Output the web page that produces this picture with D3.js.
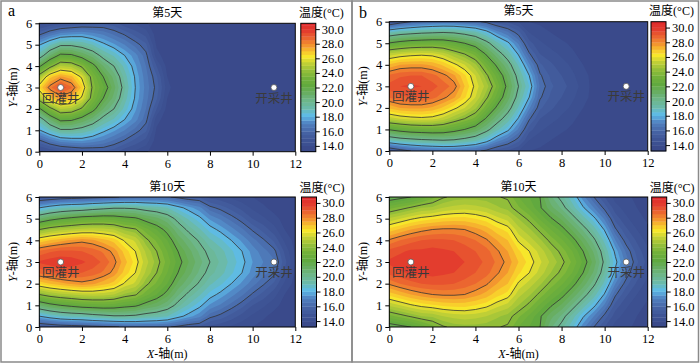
<!DOCTYPE html>
<html>
<head>
<meta charset="utf-8">
<script src="https://cdn.jsdelivr.net/npm/d3@7"></script>
<style>
  body { margin: 0; background: #fff; }
  svg text { font-family: "Liberation Serif", "Times New Roman", "Noto Sans CJK SC", serif; }
</style>
</head>
<body>
<svg id="chart" width="700" height="364"></svg>
<script>
// grid the temperatures were read on (m)
const gridX = [0,0.5,1,1.5,2,2.5,3,3.5,4,4.5,5,5.5,6,6.5,7,7.5,8,8.5,9,9.5,10,10.5,11,11.5,12];
const gridY = [6,5.5,5,4.5,4,3.5,3,2.5,2,1.5,1,0.5,0];

const xTicks = [0,2,4,6,8,10,12];
const yTicks = [0,1,2,3,4,5,6];
const colorTicks = [14,16,18,20,22,24,26,28,30];
const lineLevels = [16,18,20,22,24,26,28];
const colorRange = [13.2, 30.8];
const days = ["第5天", "第10天"];
const panelNames = ["a", "b"];
const wells = [
  { name: "回灌井", x: 1, y: 3 },
  { name: "开采井", x: 11, y: 3 }
];

// temperature (°C), rows top (y=6) to bottom (y=0)
const tempA5 = [
  [14.2,14.5,14.8,15.0,15.2,15.3,15.4,15.2,14.6,14.4,14.1,13.6,13.6,13.6,13.6,13.6,13.6,13.6,13.6,13.6,13.6,13.6,13.6,13.6,13.6],
  [15.8,16.6,17.2,17.4,17.5,17.2,16.9,16.4,15.9,15.3,14.8,13.7,13.6,13.6,13.6,13.6,13.6,13.6,13.6,13.6,13.6,13.6,13.6,13.6,13.6],
  [17.9,18.9,19.8,19.8,19.5,19.0,18.2,17.6,17.0,16.3,15.6,13.9,13.6,13.6,13.6,13.6,13.6,13.6,13.6,13.6,13.6,13.6,13.6,13.6,13.6],
  [19.3,21.0,22.3,22.2,21.5,20.7,19.6,18.9,18.0,17.2,16.2,14.2,13.7,13.6,13.6,13.6,13.6,13.6,13.6,13.6,13.6,13.6,13.6,13.6,13.6],
  [21.8,23.6,25.0,24.8,23.8,22.4,21.0,20.0,18.8,17.6,16.5,15.0,13.8,13.6,13.6,13.6,13.6,13.6,13.6,13.6,13.6,13.6,13.6,13.6,13.6],
  [24.6,26.8,27.6,27.2,25.8,23.5,22.0,20.8,19.3,17.9,16.7,15.6,14.0,13.6,13.6,13.6,13.6,13.6,13.6,13.6,13.6,13.6,13.6,13.6,13.6],
  [26.5,28.3,29.5,28.6,26.8,23.8,22.6,21.2,19.6,18.0,16.8,15.8,14.2,13.6,13.6,13.6,13.6,13.6,13.6,13.6,13.6,13.6,13.6,13.6,13.6],
  [24.6,26.8,27.6,27.2,25.8,23.5,22.0,20.8,19.3,17.9,16.7,15.6,14.0,13.6,13.6,13.6,13.6,13.6,13.6,13.6,13.6,13.6,13.6,13.6,13.6],
  [21.8,23.6,25.0,24.8,23.8,22.4,21.0,20.0,18.8,17.6,16.5,15.0,13.8,13.6,13.6,13.6,13.6,13.6,13.6,13.6,13.6,13.6,13.6,13.6,13.6],
  [19.3,21.0,22.3,22.2,21.5,20.7,19.6,18.9,18.0,17.2,16.2,14.2,13.7,13.6,13.6,13.6,13.6,13.6,13.6,13.6,13.6,13.6,13.6,13.6,13.6],
  [17.9,18.9,19.8,19.8,19.5,19.0,18.2,17.6,17.0,16.3,15.6,13.9,13.6,13.6,13.6,13.6,13.6,13.6,13.6,13.6,13.6,13.6,13.6,13.6,13.6],
  [15.8,16.6,17.2,17.4,17.5,17.2,16.9,16.4,15.9,15.3,14.8,13.7,13.6,13.6,13.6,13.6,13.6,13.6,13.6,13.6,13.6,13.6,13.6,13.6,13.6],
  [14.2,14.5,14.8,15.0,15.2,15.3,15.4,15.2,14.6,14.4,14.1,13.6,13.6,13.6,13.6,13.6,13.6,13.6,13.6,13.6,13.6,13.6,13.6,13.6,13.6]
];

const tempA10 = [
  [15.0,15.2,15.4,15.5,15.6,15.7,15.8,15.9,16.1,16.2,16.2,16.2,16.1,15.8,15.5,15.4,14.8,14.6,14.4,14.2,14.0,13.8,13.7,13.6,13.6],
  [18.0,18.5,18.9,19.1,19.2,19.5,19.7,19.9,19.9,19.8,19.5,19.3,19.0,18.3,17.7,17.2,16.2,15.8,15.3,14.8,14.4,14.1,13.8,13.7,13.6],
  [21.0,21.6,22.0,22.3,22.6,22.7,22.8,22.7,22.4,22.2,21.6,21.2,20.6,19.7,18.9,18.2,17.4,16.9,16.3,15.7,15.0,14.6,14.2,13.8,13.6],
  [24.0,24.5,24.8,25.0,25.2,25.3,25.2,25.0,24.4,24.1,23.2,22.5,21.7,20.6,19.8,19.1,18.3,17.8,17.2,16.6,15.9,15.3,14.7,14.0,13.7],
  [26.6,27.0,27.3,27.6,27.8,27.6,27.2,26.8,25.9,25.4,24.2,23.4,22.5,21.4,20.6,19.9,19.1,18.6,18.0,17.4,16.7,16.1,15.4,14.4,13.8],
  [28.6,28.9,29.1,29.1,29.0,28.8,28.4,27.8,26.8,26.0,24.9,24.0,23.0,22.0,21.2,20.4,19.7,19.2,18.6,18.0,17.3,16.7,16.2,14.9,13.9],
  [29.6,29.8,29.9,29.8,29.6,29.3,28.9,28.2,27.2,26.3,25.2,24.3,23.3,22.3,21.5,20.7,20.0,19.4,18.8,18.2,17.5,17.0,16.6,15.2,14.0],
  [28.6,28.9,29.1,29.1,29.0,28.8,28.4,27.8,26.8,26.0,24.9,24.0,23.0,22.0,21.2,20.4,19.7,19.2,18.6,18.0,17.3,16.7,16.2,14.9,13.9],
  [26.6,27.0,27.3,27.6,27.8,27.6,27.2,26.8,25.9,25.4,24.2,23.4,22.5,21.4,20.6,19.9,19.1,18.6,18.0,17.4,16.7,16.1,15.4,14.4,13.8],
  [24.0,24.5,24.8,25.0,25.2,25.3,25.2,25.0,24.4,24.1,23.2,22.5,21.7,20.6,19.8,19.1,18.3,17.8,17.2,16.6,15.9,15.3,14.7,14.0,13.7],
  [21.0,21.6,22.0,22.3,22.6,22.7,22.8,22.7,22.4,22.2,21.6,21.2,20.6,19.7,18.9,18.2,17.4,16.9,16.3,15.7,15.0,14.6,14.2,13.8,13.6],
  [18.0,18.5,18.9,19.1,19.2,19.5,19.7,19.9,19.9,19.8,19.5,19.3,19.0,18.3,17.7,17.2,16.2,15.8,15.3,14.8,14.4,14.1,13.8,13.7,13.6],
  [15.0,15.2,15.4,15.5,15.6,15.7,15.8,15.9,16.1,16.2,16.2,16.2,16.1,15.8,15.5,15.4,14.8,14.6,14.4,14.2,14.0,13.8,13.7,13.6,13.6]
];

const tempB5 = [
  [14.8,15.5,16.0,16.3,16.5,16.6,16.6,16.4,16.2,15.8,15.2,14.9,14.5,14.0,13.9,13.8,13.7,13.6,13.6,13.6,13.6,13.6,13.6,13.6,13.6],
  [19.0,19.4,19.6,19.8,19.9,20.0,19.9,19.6,19.2,18.4,17.3,16.6,15.7,14.5,14.2,14.0,13.8,13.7,13.6,13.6,13.6,13.6,13.6,13.6,13.6],
  [22.1,22.5,22.8,22.9,23.0,22.9,22.5,22.0,21.4,20.4,19.2,18.2,16.9,15.2,14.6,14.3,14.1,13.9,13.7,13.6,13.6,13.6,13.6,13.6,13.6],
  [25.2,25.5,25.7,25.8,25.7,25.3,24.6,24.0,23.3,21.9,20.6,19.4,17.9,16.1,15.0,14.7,14.4,14.1,13.8,13.6,13.6,13.6,13.6,13.6,13.6],
  [27.1,27.5,27.6,27.6,27.4,26.9,26.2,25.5,24.6,23.2,21.8,20.5,18.9,17.1,15.6,15.1,14.7,14.4,14.0,13.7,13.6,13.6,13.6,13.6,13.6],
  [28.6,28.9,29.0,29.0,28.7,28.2,27.6,26.6,25.5,24.2,22.8,21.3,19.6,18.0,16.1,15.4,15.0,14.6,14.2,13.8,13.6,13.6,13.6,13.6,13.6],
  [29.2,29.5,29.6,29.5,29.2,28.8,28.3,27.0,25.8,24.8,23.4,21.7,20.0,18.5,16.4,15.6,15.2,14.8,14.3,13.8,13.6,13.6,13.6,13.6,13.6],
  [28.6,28.9,29.0,29.0,28.7,28.2,27.6,26.6,25.5,24.2,22.8,21.3,19.6,18.0,16.1,15.4,15.0,14.6,14.2,13.8,13.6,13.6,13.6,13.6,13.6],
  [27.1,27.5,27.6,27.6,27.4,26.9,26.2,25.5,24.6,23.2,21.8,20.5,18.9,17.1,15.6,15.1,14.7,14.4,14.0,13.7,13.6,13.6,13.6,13.6,13.6],
  [25.2,25.5,25.7,25.8,25.7,25.3,24.6,24.0,23.3,21.9,20.6,19.4,17.9,16.1,15.0,14.7,14.4,14.1,13.8,13.6,13.6,13.6,13.6,13.6,13.6],
  [22.1,22.5,22.8,22.9,23.0,22.9,22.5,22.0,21.4,20.4,19.2,18.2,16.9,15.2,14.6,14.3,14.1,13.9,13.7,13.6,13.6,13.6,13.6,13.6,13.6],
  [19.0,19.4,19.6,19.8,19.9,20.0,19.9,19.6,19.2,18.4,17.3,16.6,15.7,14.5,14.2,14.0,13.8,13.7,13.6,13.6,13.6,13.6,13.6,13.6,13.6],
  [14.8,15.5,16.0,16.3,16.5,16.6,16.6,16.4,16.2,15.8,15.2,14.9,14.5,14.0,13.9,13.8,13.7,13.6,13.6,13.6,13.6,13.6,13.6,13.6,13.6]
];

const tempB10 = [
  [21.4,21.7,22.0,22.6,23.3,23.9,24.2,24.3,24.3,24.2,24.05,23.9,23.0,22.5,22.0,20.6,19.7,18.6,17.2,16.0,15.0,14.3,14.1,13.9,13.7],
  [23.3,23.7,24.1,24.5,24.6,25.0,25.2,25.3,25.2,25.0,24.6,24.3,23.6,22.9,22.1,21.2,20.4,19.3,18.1,17.0,15.8,14.7,14.3,14.0,13.8],
  [25.1,25.5,25.9,26.2,26.4,26.6,26.7,26.7,26.5,26.2,25.7,25.3,24.5,23.8,22.9,22.1,21.4,20.4,19.3,18.2,16.9,15.3,14.6,14.2,13.9],
  [26.7,27.1,27.5,27.8,28.0,28.1,28.1,28.0,27.7,27.3,26.7,26.3,25.2,24.6,23.8,23.0,22.3,21.4,20.4,19.3,17.9,16.1,15.1,14.5,14.1],
  [28.1,28.5,28.8,29.0,29.1,29.1,29.0,28.8,28.5,28.1,27.5,27.0,25.9,25.3,24.6,23.8,23.1,22.3,21.3,20.2,18.8,17.0,15.7,14.9,14.3],
  [29.2,29.4,29.6,29.6,29.7,29.6,29.5,29.3,29.0,28.7,28.1,27.5,26.6,26.0,25.3,24.5,23.8,23.0,22.0,20.9,19.5,17.8,16.4,15.3,14.6],
  [29.6,29.8,29.9,29.9,29.9,29.8,29.7,29.5,29.2,28.9,28.4,27.8,27.0,26.3,25.6,24.9,24.2,23.4,22.4,21.3,19.8,18.2,16.8,15.6,14.8],
  [29.2,29.4,29.6,29.6,29.7,29.6,29.5,29.3,29.0,28.7,28.1,27.5,26.6,26.0,25.3,24.5,23.8,23.0,22.0,20.9,19.5,17.8,16.4,15.3,14.6],
  [28.1,28.5,28.8,29.0,29.1,29.1,29.0,28.8,28.5,28.1,27.5,27.0,25.9,25.3,24.6,23.8,23.1,22.3,21.3,20.2,18.8,17.0,15.7,14.9,14.3],
  [26.7,27.1,27.5,27.8,28.0,28.1,28.1,28.0,27.7,27.3,26.7,26.3,25.2,24.6,23.8,23.0,22.3,21.4,20.4,19.3,17.9,16.1,15.1,14.5,14.1],
  [25.1,25.5,25.9,26.2,26.4,26.6,26.7,26.7,26.5,26.2,25.7,25.3,24.5,23.8,22.9,22.1,21.4,20.4,19.3,18.2,16.9,15.3,14.6,14.2,13.9],
  [23.3,23.7,24.1,24.5,24.6,25.0,25.2,25.3,25.2,25.0,24.6,24.3,23.6,22.9,22.1,21.2,20.4,19.3,18.1,17.0,15.8,14.7,14.3,14.0,13.8],
  [21.4,21.7,22.0,22.6,23.3,23.9,24.2,24.3,24.3,24.2,24.05,23.9,23.0,22.5,22.0,20.6,19.7,18.6,17.2,16.0,15.0,14.3,14.1,13.9,13.7]
];

// colour bands every 0.5 °C
const fillLevels = d3.range(14, 30.51, 0.5);
const paletteStops = [13.6,14.75,15.75,16.75,17.25,17.75,18.25,19.25,20.25,21.25,22.25,23.25,24.25,25.25,26.25,26.75,27.75,28.75,29.75,30.75];
const paletteColors = ["#3a4a8b","#3e5495","#4562a3","#4e79b8","#5289c6","#58a6da","#5fbbe3","#6bbaa9","#6db689","#68ae62",
                       "#61a93f","#72b13a","#92be3a","#bfcf36","#f7e72b","#f8cf2c","#f3962f","#eb6630","#e33d2e","#df2a2c"];
const palette = d3.scaleLinear().domain(paletteStops).range(paletteColors).interpolate(d3.interpolateRgb);
const bandColor = t => palette(t + 0.25);

const layout = [
  { panel: 0, day: 0, field: tempA5,  left: 39.3,  right: 295.3, top: 23.3, bottom: 151.7, cb: 300.8, xLabel: false },
  { panel: 0, day: 1, field: tempA10, left: 39.3,  right: 295.3, top: 197,  bottom: 327,   cb: 301.5, xLabel: true },
  { panel: 1, day: 0, field: tempB5,  left: 389.3, right: 647.7, top: 21.7, bottom: 151,   cb: 651,   xLabel: false },
  { panel: 1, day: 1, field: tempB10, left: 389.3, right: 647.7, top: 197,  bottom: 327,   cb: 651.7, xLabel: true }
];

const svg = d3.select("#chart");

// panel frames
svg.append("rect").attr("x", 1).attr("y", 1).attr("width", 351).attr("height", 361)
  .attr("fill", "none").attr("stroke", "#8a8a8a").attr("stroke-width", 1.5);
svg.append("rect").attr("x", 352).attr("y", 1).attr("width", 346.5).attr("height", 361)
  .attr("fill", "none").attr("stroke", "#8a8a8a").attr("stroke-width", 1.5);

svg.append("text").attr("x", 8).attr("y", 16).attr("font-size", 16).text(panelNames[0]);
svg.append("text").attr("x", 359).attr("y", 18).attr("font-size", 16).text(panelNames[1]);

// grid index -> metres
const gx2x = d3.scaleLinear().domain([0.5, gridX.length - 0.5]).range([gridX[0], gridX[gridX.length - 1]]);
const gy2y = d3.scaleLinear().domain([0.5, gridY.length - 0.5]).range([gridY[0], gridY[gridY.length - 1]]);

const contour = d3.contours().size([gridX.length, gridY.length]).smooth(true);

layout.forEach((p, k) => {
  const x = d3.scaleLinear().domain([0, 12]).range([p.left, p.right]);
  const y = d3.scaleLinear().domain([0, 6]).range([p.bottom, p.top]);
  const path = d3.geoPath(d3.geoTransform({
    point(a, b) { this.stream.point(x(gx2x(a)), y(gy2y(b))); }
  }));
  const values = p.field.flat();

  const clipId = "clip" + k;
  svg.append("clipPath").attr("id", clipId).append("rect")
    .attr("x", p.left).attr("y", p.top)
    .attr("width", p.right - p.left).attr("height", p.bottom - p.top);

  const g = svg.append("g").attr("clip-path", `url(#${clipId})`);
  g.append("rect")
    .attr("x", p.left).attr("y", p.top)
    .attr("width", p.right - p.left).attr("height", p.bottom - p.top)
    .attr("fill", palette(13.6));

  g.selectAll("path.band").data(fillLevels).join("path")
    .attr("class", "band")
    .attr("d", t => path(contour.contour(values, t)))
    .attr("fill", t => bandColor(t));

  g.selectAll("path.iso").data(lineLevels).join("path")
    .attr("class", "iso")
    .attr("d", t => path(contour.contour(values, t)))
    .attr("fill", "none")
    .attr("stroke", "#333")
    .attr("stroke-width", 0.8)
    .attr("stroke-linejoin", "round");

  // wells
  wells.forEach(w => {
    svg.append("circle").attr("cx", x(w.x)).attr("cy", y(w.y)).attr("r", 3)
      .attr("fill", "#fff").attr("stroke", "#555").attr("stroke-width", 0.8);
    svg.append("text").attr("x", x(w.x)).attr("y", y(w.y) + 15)
      .attr("text-anchor", "middle").attr("font-size", 12.5).attr("fill", "#3a3a3a")
      .text(w.name);
  });

  svg.append("rect")
    .attr("x", p.left).attr("y", p.top)
    .attr("width", p.right - p.left).attr("height", p.bottom - p.top)
    .attr("fill", "none").attr("stroke", "#000").attr("stroke-width", 1);

  const yAxis = d3.axisLeft(y).tickValues(yTicks).tickFormat(d3.format("d"))
    .tickSize(4).tickSizeOuter(0).tickPadding(3);
  const xAxis = d3.axisBottom(x).tickValues(xTicks).tickFormat(d3.format("d"))
    .tickSize(4).tickSizeOuter(0).tickPadding(3);

  const yG = svg.append("g").attr("transform", `translate(${p.left},0)`).call(yAxis);
  const xG = svg.append("g").attr("transform", `translate(0,${p.bottom})`).call(xAxis);
  [yG, xG].forEach(a => {
    a.select(".domain").remove();
    a.selectAll("text").attr("font-size", 12.5).attr("font-family", null).attr("fill", "#000");
    a.selectAll("line").attr("stroke", "#000");
  });

  const yLab = svg.append("text")
    .attr("transform", `translate(${p.left - 22},${(p.top + p.bottom) / 2}) rotate(-90)`)
    .attr("text-anchor", "middle").attr("font-size", 12);
  yLab.append("tspan").attr("font-style", "italic").text("Y");
  yLab.append("tspan").text("-轴(m)");

  if (p.xLabel) {
    const xLab = svg.append("text")
      .attr("x", (p.left + p.right) / 2).attr("y", 358)
      .attr("text-anchor", "middle").attr("font-size", 12);
    xLab.append("tspan").attr("font-style", "italic").text("X");
    xLab.append("tspan").text("-轴(m)");
  }

  svg.append("text")
    .attr("x", (p.left + p.right) / 2).attr("y", p.top - 6.5)
    .attr("text-anchor", "middle").attr("font-size", 12)
    .text(days[p.day]);

  // colour bar
  const cbW = 15;
  const c = d3.scaleLinear().domain(colorRange).range([p.bottom, p.top]);
  const edges = [colorRange[0], ...fillLevels, colorRange[1]];
  svg.append("g").selectAll("rect").data(d3.range(edges.length - 1)).join("rect")
    .attr("x", p.cb).attr("width", cbW)
    .attr("y", i => c(edges[i + 1]))
    .attr("height", i => c(edges[i]) - c(edges[i + 1]) + 0.3)
    .attr("fill", i => i === 0 ? palette(13.6) : bandColor(edges[i]));
  svg.append("rect").attr("x", p.cb).attr("y", p.top).attr("width", cbW).attr("height", p.bottom - p.top)
    .attr("fill", "none").attr("stroke", "#000").attr("stroke-width", 1);

  const cAxis = d3.axisRight(c).tickValues(colorTicks).tickFormat(d3.format(".1f"))
    .tickSize(4).tickSizeOuter(0).tickPadding(2);
  const cG = svg.append("g").attr("transform", `translate(${p.cb + cbW},0)`).call(cAxis);
  cG.select(".domain").remove();
  cG.selectAll("text").attr("font-size", 12.5).attr("font-family", null).attr("fill", "#000");
  cG.selectAll("line").attr("stroke", "#000");

  svg.append("text")
    .attr("x", p.cb + cbW / 2 + 13).attr("y", p.top - (p.day === 0 ? 6.5 : 5.5))
    .attr("text-anchor", "middle").attr("font-size", 12)
    .text("温度(°C)");
});
</script>
</body>
</html>
